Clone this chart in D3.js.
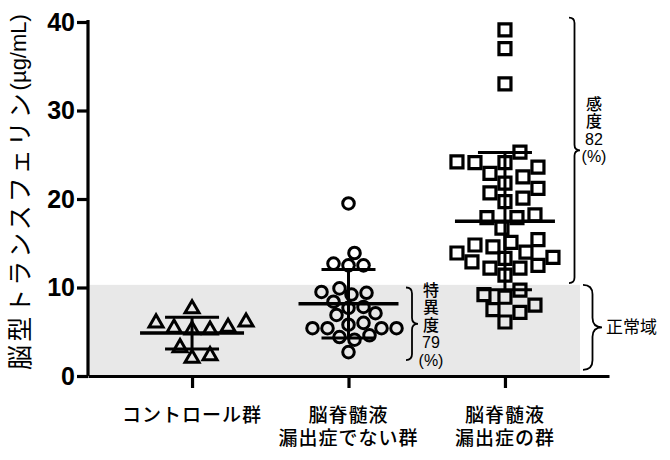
<!DOCTYPE html>
<html>
<head>
<meta charset="utf-8">
<script src="https://cdn.jsdelivr.net/npm/d3@7"></script>
<style>
  body { margin: 0; background: #fff; }
  text { font-family: "Liberation Sans", "Noto Sans CJK JP", sans-serif; }
</style>
</head>
<body>
<svg width="670" height="460"></svg>
<script>
// group labels (two lines where the original breaks them)
let groupNames = ["control", "nonLeak", "leak"];
let groupLabels = [["コントロール群"], ["脳脊髄液", "漏出症でない群"], ["脳脊髄液", "漏出症の群"]];

// brain-type transferrin, ug/mL
let controlValues = [7.6, 6.1, 5.5, 5.2, 5.2, 5.4, 6.0, 3.2, 2.0, 2.3];
let nonLeakValues = [19.5, 13.9, 12.5, 12.5, 12.7, 9.5, 9.2, 9.4, 9.9, 7.8, 8.4, 7.1,
    6.9, 7.7, 6.0, 5.8, 5.4, 5.4, 5.4, 5.4, 4.4, 4.1, 4.6, 2.7];
let leakValues = [39.1, 37.0, 33.0, 25.3, 24.1, 23.6, 22.5, 22.9, 24.1, 24.2, 21.2, 21.8,
    20.1, 19.7, 20.7, 17.9, 16.7, 17.9, 18.2, 15.4, 13.9, 14.6, 14.0, 14.8, 15.1, 13.4,
    12.5, 12.2, 12.2, 12.9, 13.3, 11.4, 9.2, 8.9, 9.7, 7.5, 7.2, 8.0, 6.1];

let yTicks = [0, 10, 20, 30, 40];
let normalUpper = 10.3;

let svg = d3.select('svg');
let margin = { left: 88, top: 22, bottom: 84 };
let height = 460 - margin.top - margin.bottom;

let xScale = d3.scalePoint()
    .domain(groupNames)
    .range([88, 609])
    .padding(0.665);

let yScale = d3.scaleLinear()
    .domain([0, 40])
    .range([margin.top + height, margin.top]);

// normal range band
svg.append('rect')
    .attr('x', 89)
    .attr('y', yScale(normalUpper))
    .attr('width', 491)
    .attr('height', yScale(0) - yScale(normalUpper))
    .style('fill', '#e8e8e8');

// simple swarm: place sorted points, shift sideways until no collision
function swarm(values, cx, minDist, step) {
    let pts = values.map(v => ({ v: v, y: yScale(v) })).sort((a, b) => a.v - b.v);
    let placed = [];
    pts.forEach(p => {
        for (let k = 0; k < 80; k++) {
            let off = k === 0 ? 0 : (k % 2 ? 1 : -1) * Math.ceil(k / 2) * step;
            let x = cx + off;
            if (placed.every(q => Math.hypot(q.x - x, q.y - p.y) >= minDist)) {
                p.x = x;
                placed.push(p);
                break;
            }
        }
    });
    return pts;
}

let groups = [
    { name: 'control', values: controlValues, symbol: d3.symbolTriangle, size: 85, sw: 3, dist: 16 },
    { name: 'nonLeak', values: nonLeakValues, symbol: d3.symbolCircle, size: 105, sw: 3, dist: 13.5 },
    { name: 'leak', values: leakValues, symbol: d3.symbolSquare, size: 144, sw: 3.2, dist: 16.5 }
];

groups.forEach(gr => {
    let cx = xScale(gr.name);
    let pts = swarm(gr.values, cx, gr.dist, 3);
    let g = svg.append('g').attr('class', 'group-' + gr.name);

    g.selectAll('.pt').data(pts)
        .enter().append('path')
        .attr('class', 'pt')
        .attr('transform', d => 'translate(' + d.x + ',' + d.y + ')')
        .attr('d', d3.symbol(gr.symbol, gr.size))
        .style('fill', 'none')
        .style('stroke', '#000')
        .style('stroke-width', gr.sw);

    // mean and SD bars
    let m = d3.mean(gr.values);
    let s = d3.deviation(gr.values);
    let half = Math.min(52, d3.max(pts, d => Math.abs(d.x - cx)) + 2);
    g.append('line')
        .attr('x1', cx).attr('x2', cx)
        .attr('y1', yScale(m - s)).attr('y2', yScale(m + s));
    [m - s, m + s].forEach(v => {
        g.append('line')
            .attr('x1', cx - 27).attr('x2', cx + 27)
            .attr('y1', yScale(v)).attr('y2', yScale(v));
    });
    g.append('line')
        .attr('x1', cx - half).attr('x2', cx + half)
        .attr('y1', yScale(m)).attr('y2', yScale(m))
        .style('stroke-width', 3.5);
    g.selectAll('line').style('stroke', '#000').filter(function () {
        return !this.style.strokeWidth;
    }).style('stroke-width', 3);
});

// axes
let xAxis = d3.axisBottom(xScale).tickSize(12).tickSizeOuter(0).tickFormat('');
let yAxis = d3.axisLeft(yScale).tickValues(yTicks).tickSize(11).tickSizeOuter(0).tickPadding(2);

svg.append('g')
    .attr('class', 'x-axis')
    .attr('transform', 'translate(0,' + yScale(0) + ')')
    .call(xAxis);
svg.append('g')
    .attr('class', 'y-axis')
    .attr('transform', 'translate(' + margin.left + ',0)')
    .call(yAxis);

svg.selectAll('.domain, .tick line')
    .style('stroke', '#000')
    .style('stroke-width', 3.2);
svg.select('.y-axis .domain').attr('d', 'M0,' + yScale(0) + 'V' + (yScale(40) - 2));

svg.selectAll('.y-axis text')
    .style('font-size', '25px')
    .style('font-weight', 'bold')
    .style('fill', '#000');

// category labels, one text per line
groupLabels.forEach((lines, i) => {
    lines.forEach((l, j) => {
        svg.append('text')
            .attr('x', xScale(groupNames[i]))
            .attr('y', 415 + j * 23)
            .attr('text-anchor', 'middle')
            .attr('dominant-baseline', 'central')
            .style('font-size', '19px')
            .style('font-weight', 500)
            .style('letter-spacing', '1px')
            .text(l);
    });
});

// y axis title
let yTitle = svg.append('text')
    .attr('transform', 'translate(18,' + 192 + ') rotate(-90)')
    .attr('text-anchor', 'middle')
    .attr('dominant-baseline', 'central');
yTitle.append('tspan')
    .style('font-family', '"Noto Sans CJK JP", sans-serif')
    .style('font-size', '25px')
    .style('letter-spacing', '3px')
    .text('脳型トランスフェリン');
yTitle.append('tspan')
    .style('font-size', '22px')
    .text('(µg/mL)');

// curly braces (pointing right)
function bracePath(x, y0, y1, w) {
    let r = w / 2, ym = (y0 + y1) / 2;
    return 'M' + x + ',' + y0 + ' Q' + (x + r) + ',' + y0 + ' ' + (x + r) + ',' + (y0 + r) +
        ' L' + (x + r) + ',' + (ym - r) + ' Q' + (x + r) + ',' + ym + ' ' + (x + w) + ',' + ym +
        ' Q' + (x + r) + ',' + ym + ' ' + (x + r) + ',' + (ym + r) +
        ' L' + (x + r) + ',' + (y1 - r) + ' Q' + (x + r) + ',' + y1 + ' ' + x + ',' + y1;
}

let sensitivity = Math.round(100 * leakValues.filter(v => v > normalUpper).length / leakValues.length);
let specificity = Math.round(100 * nonLeakValues.filter(v => v <= normalUpper).length / nonLeakValues.length);

function brace(x, v0, v1, w) {
    svg.append('path')
        .attr('d', bracePath(x, yScale(v0), yScale(v1), w))
        .style('fill', 'none')
        .style('stroke', '#000')
        .style('stroke-width', 1.8);
}

function stackedLabel(x, yStart, lines) {
    lines.forEach((l, i) => {
        svg.append('text')
            .attr('x', x)
            .attr('y', yStart + i * 17.5)
            .attr('text-anchor', 'middle')
            .attr('dominant-baseline', 'central')
            .style('font-size', '16px')
            .style('font-weight', l.length === 1 ? 500 : 400)
            .text(l);
    });
}

brace(569, 40.5, 10.5, 11);
stackedLabel(594, 104, ['感', '度', String(sensitivity), '(%)']);

brace(406, 10, 1.8, 12);
stackedLabel(431, 290, ['特', '異', '度', String(specificity), '(%)']);

brace(583, normalUpper, 0.7, 19);
svg.append('text')
    .attr('x', 606)
    .attr('y', (yScale(normalUpper) + yScale(0.7)) / 2)
    .attr('dominant-baseline', 'central')
    .style('font-size', '17px')
    .text('正常域');
</script>
</body>
</html>
